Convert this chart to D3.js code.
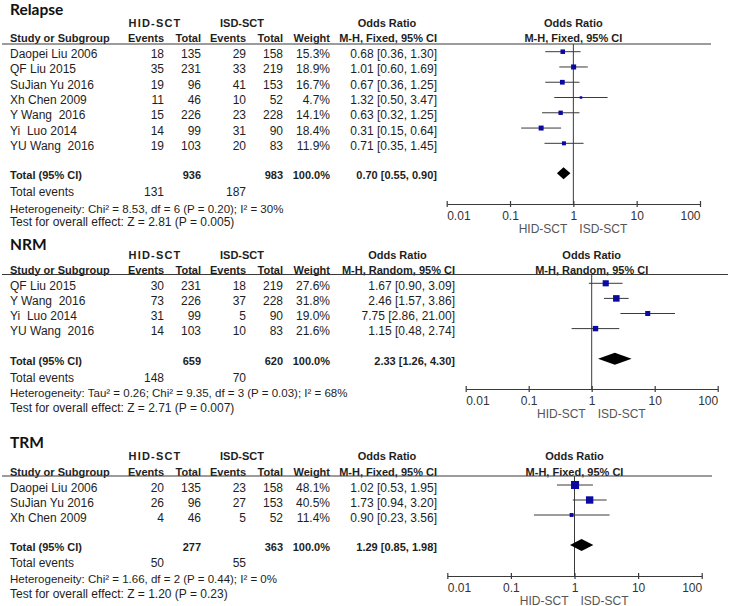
<!DOCTYPE html>
<html>
<head>
<meta charset="utf-8">
<script src="https://cdn.jsdelivr.net/npm/d3@7"></script>
<style>
html,body{margin:0;padding:0;background:#fff;}
svg{display:block;}
text{font-family:"Liberation Sans",Arial,sans-serif;fill:#1e1e1e;white-space:pre;}
</style>
</head>
<body>
<svg id="chart" width="729" height="606"></svg>
<script>
// ---------- DATA ----------
const relStudies = ["Daopei Liu 2006","QF Liu 2015","SuJian Yu 2016","Xh Chen 2009","Y Wang  2016","Yi  Luo 2014","YU Wang  2016"];
const relHidEvents = [18,35,19,11,15,14,19];
const relHidTotal = [135,231,96,46,226,99,103];
const relIsdEvents = [29,33,41,10,23,31,20];
const relIsdTotal = [158,219,153,52,228,90,83];
const relWeight = [15.3,18.9,16.7,4.7,14.1,18.4,11.9];
const relOR = [0.68,1.01,0.67,1.32,0.63,0.31,0.71];
const relLo = [0.36,0.60,0.36,0.50,0.32,0.15,0.35];
const relHi = [1.30,1.69,1.25,3.47,1.25,0.64,1.45];
const relTotal = {hidTotal:936, isdTotal:983, or:0.70, lo:0.55, hi:0.90, hidEvents:131, isdEvents:187};
const relHet = "Heterogeneity: Chi² = 8.53, df = 6 (P = 0.20); I² = 30%";
const relTest = "Test for overall effect: Z = 2.81 (P = 0.005)";

const nrmStudies = ["QF Liu 2015","Y Wang  2016","Yi  Luo 2014","YU Wang  2016"];
const nrmHidEvents = [30,73,31,14];
const nrmHidTotal = [231,226,99,103];
const nrmIsdEvents = [18,37,5,10];
const nrmIsdTotal = [219,228,90,83];
const nrmWeight = [27.6,31.8,19.0,21.6];
const nrmOR = [1.67,2.46,7.75,1.15];
const nrmLo = [0.90,1.57,2.86,0.48];
const nrmHi = [3.09,3.86,21.00,2.74];
const nrmTotal = {hidTotal:659, isdTotal:620, or:2.33, lo:1.26, hi:4.30, hidEvents:148, isdEvents:70};
const nrmHet = "Heterogeneity: Tau² = 0.26; Chi² = 9.35, df = 3 (P = 0.03); I² = 68%";
const nrmTest = "Test for overall effect: Z = 2.71 (P = 0.007)";

const trmStudies = ["Daopei Liu 2006","SuJian Yu 2016","Xh Chen 2009"];
const trmHidEvents = [20,26,4];
const trmHidTotal = [135,96,46];
const trmIsdEvents = [23,27,5];
const trmIsdTotal = [158,153,52];
const trmWeight = [48.1,40.5,11.4];
const trmOR = [1.02,1.73,0.90];
const trmLo = [0.53,0.94,0.23];
const trmHi = [1.95,3.20,3.56];
const trmTotal = {hidTotal:277, isdTotal:363, or:1.29, lo:0.85, hi:1.98, hidEvents:50, isdEvents:55};
const trmHet = "Heterogeneity: Chi² = 1.66, df = 2 (P = 0.44); I² = 0%";
const trmTest = "Test for overall effect: Z = 1.20 (P = 0.23)";

const tickValues = [0.01,0.1,1,10,100];
const tickLabels = ["0.01","0.1","1","10","100"];
const groupLabels = ["HID-SCT","ISD-SCT"];

// ---------- LAYOUT ----------
const panels = [
  {title:"Relapse", method:"M-H, Fixed, 95% CI",
   studies:relStudies, he:relHidEvents, ht:relHidTotal, ie:relIsdEvents, it:relIsdTotal, w:relWeight, or:relOR, lo:relLo, hi:relHi, tot:relTotal, het:relHet, test:relTest,
   titleY:15, h1Y:27, h2Y:42, lineY:44, row0:51.7, step:15.27, totalY:173.3, evY:196, hetY:212.5, testY:226, axisY:204,
   range:[446.7,700], lineEnd:711, ciRight:437, ciCenter:387},
  {title:"NRM", method:"M-H, Random, 95% CI",
   studies:nrmStudies, he:nrmHidEvents, ht:nrmHidTotal, ie:nrmIsdEvents, it:nrmIsdTotal, w:nrmWeight, or:nrmOR, lo:nrmLo, hi:nrmHi, tot:nrmTotal, het:nrmHet, test:nrmTest,
   titleY:250, h1Y:259, h2Y:273.5, lineY:274.5, row0:283.3, step:15.1, totalY:358.7, evY:382, hetY:396.5, testY:412, axisY:389,
   range:[465.7,717.7], lineEnd:728, ciRight:455, ciCenter:397.5},
  {title:"TRM", method:"M-H, Fixed, 95% CI",
   studies:trmStudies, he:trmHidEvents, ht:trmHidTotal, ie:trmIsdEvents, it:trmIsdTotal, w:trmWeight, or:trmOR, lo:trmLo, hi:trmHi, tot:trmTotal, het:trmHet, test:trmTest,
   titleY:448, h1Y:460, h2Y:475.5, lineY:476, row0:485, step:15, totalY:545, evY:567, hetY:583, testY:598, axisY:576,
   range:[447.3,701.7], lineEnd:712, ciRight:437, ciCenter:387}
];

const col = {study:10, hidE:164, hidT:201, isdE:246, isdT:283, weight:330};
const sizeScale = d3.scaleSqrt().domain([0,100]).range([0,11.6]);
const fmt2 = d3.format(".2f");
const fmtW = d3.format(".1f");
const lineColor = "#3a3a3a";
const boxColor = "#0a0aa0";

const svg = d3.select("#chart");

function txt(g, x, y, s, opts={}) {
  return g.append("text").attr("x", x).attr("y", y).text(s)
    .attr("font-size", opts.size || 12)
    .attr("font-weight", opts.bold ? "bold" : "normal")
    .attr("text-anchor", opts.anchor || "start")
    .style("fill", opts.color || "#1e1e1e")
    .style("letter-spacing", opts.ls || null)
    .style("font-family", opts.family || null);
}

panels.forEach(p => {
  const g = svg.append("g");
  const x = d3.scaleLog().domain([0.01,100]).range(p.range);
  const x1 = x(1);

  // Title
  txt(g, 10, p.titleY, p.title, {size:15.5, bold:true, family:"Lato, 'Open Sans', sans-serif", color:"#111"});

  // header row 1
  txt(g, 155, p.h1Y, groupLabels[0], {size:11, bold:true, anchor:"middle", ls:"1.2px"});
  txt(g, 242, p.h1Y, groupLabels[1], {size:11, bold:true, anchor:"middle"});
  txt(g, p.ciCenter, p.h1Y, "Odds Ratio", {size:11, bold:true, anchor:"middle"});
  txt(g, x1, p.h1Y, "Odds Ratio", {size:11, bold:true, anchor:"middle"});

  // header row 2
  txt(g, col.study, p.h2Y, "Study or Subgroup", {size:11, bold:true});
  txt(g, col.hidE, p.h2Y, "Events", {size:11, bold:true, anchor:"end"});
  txt(g, col.hidT, p.h2Y, "Total", {size:11, bold:true, anchor:"end"});
  txt(g, col.isdE, p.h2Y, "Events", {size:11, bold:true, anchor:"end"});
  txt(g, col.isdT, p.h2Y, "Total", {size:11, bold:true, anchor:"end"});
  txt(g, col.weight, p.h2Y, "Weight", {size:11, bold:true, anchor:"end"});
  txt(g, p.ciRight, p.h2Y, p.method, {size:11, bold:true, anchor:"end"});
  txt(g, x1, p.h2Y, p.method, {size:11, bold:true, anchor:"middle"});

  // header line
  g.append("line").attr("x1", 2).attr("x2", p.lineEnd).attr("y1", p.lineY).attr("y2", p.lineY)
    .attr("stroke", lineColor).attr("stroke-width", 1.2);

  // rows
  const rows = p.studies.map((s,i) => ({s, he:p.he[i], ht:p.ht[i], ie:p.ie[i], it:p.it[i], w:p.w[i], or:p.or[i], lo:p.lo[i], hi:p.hi[i], y:p.row0 + i*p.step}));
  rows.forEach(r => {
    const ty = r.y + 6.5;
    txt(g, col.study, ty, r.s);
    txt(g, col.hidE, ty, r.he, {anchor:"end"});
    txt(g, col.hidT, ty, r.ht, {anchor:"end"});
    txt(g, col.isdE, ty, r.ie, {anchor:"end"});
    txt(g, col.isdT, ty, r.it, {anchor:"end"});
    txt(g, col.weight, ty, fmtW(r.w) + "%", {anchor:"end"});
    txt(g, p.ciRight, ty, `${fmt2(r.or)} [${fmt2(r.lo)}, ${fmt2(r.hi)}]`, {anchor:"end"});
  });

  // vertical line at OR = 1
  g.append("line").attr("x1", x1).attr("x2", x1).attr("y1", p.lineY).attr("y2", p.axisY)
    .attr("stroke", lineColor).attr("stroke-width", 1);

  // CI lines and squares
  g.selectAll("line.ci").data(rows).join("line").attr("class","ci")
    .attr("x1", d => x(d.lo)).attr("x2", d => x(d.hi))
    .attr("y1", d => d.y).attr("y2", d => d.y)
    .attr("stroke", lineColor).attr("stroke-width", 1);
  g.selectAll("rect.box").data(rows).join("rect").attr("class","box")
    .attr("x", d => x(d.or) - sizeScale(d.w)/2)
    .attr("y", d => d.y - sizeScale(d.w)/2)
    .attr("width", d => sizeScale(d.w))
    .attr("height", d => sizeScale(d.w))
    .attr("fill", boxColor);

  // total row
  const t = p.tot;
  const tty = p.totalY + 6;
  txt(g, col.study, tty, "Total (95% CI)", {size:11, bold:true});
  txt(g, col.hidT, tty, t.hidTotal, {size:11, bold:true, anchor:"end"});
  txt(g, col.isdT, tty, t.isdTotal, {size:11, bold:true, anchor:"end"});
  txt(g, col.weight, tty, "100.0%", {size:11, bold:true, anchor:"end"});
  txt(g, p.ciRight, tty, `${fmt2(t.or)} [${fmt2(t.lo)}, ${fmt2(t.hi)}]`, {size:11, bold:true, anchor:"end"});

  const hh = 6;
  g.append("path")
    .attr("d", `M${x(t.lo)},${p.totalY} L${x(t.or)},${p.totalY-hh} L${x(t.hi)},${p.totalY} L${x(t.or)},${p.totalY+hh} Z`)
    .attr("fill", "#000");

  // total events, heterogeneity, test
  txt(g, col.study, p.evY, "Total events");
  txt(g, col.hidE, p.evY, t.hidEvents, {anchor:"end"});
  txt(g, col.isdE, p.evY, t.isdEvents, {anchor:"end"});
  txt(g, col.study, p.hetY, p.het, {size:11.5});
  txt(g, col.study, p.testY, p.test);

  // axis
  const axis = d3.axisBottom(x).tickValues(tickValues).tickFormat((d,i) => tickLabels[i])
    .tickSizeInner(3).tickSizeOuter(0).tickPadding(4);
  const ag = g.append("g").attr("transform", `translate(0,${p.axisY})`).call(axis);
  ag.select(".domain").attr("stroke", lineColor).attr("stroke-width", 1.2);
  ag.selectAll(".tick line").attr("y1", -3).attr("y2", 3).attr("stroke", lineColor).attr("stroke-width", 1.2);
  ag.selectAll(".tick text")
    .attr("font-size", 12).attr("font-family", "Liberation Sans, Arial, sans-serif")
    .style("fill", "#333")
    .attr("dy", "0.75em")
    .attr("text-anchor", (d,i) => i === 0 ? "start" : (i === tickValues.length - 1 ? "end" : "middle"));

  txt(g, x1 - 6, p.axisY + 28.5, groupLabels[0], {anchor:"end", color:"#555"});
  txt(g, x1 + 6, p.axisY + 28.5, groupLabels[1], {anchor:"start", color:"#555"});
});
</script>
</body>
</html>
